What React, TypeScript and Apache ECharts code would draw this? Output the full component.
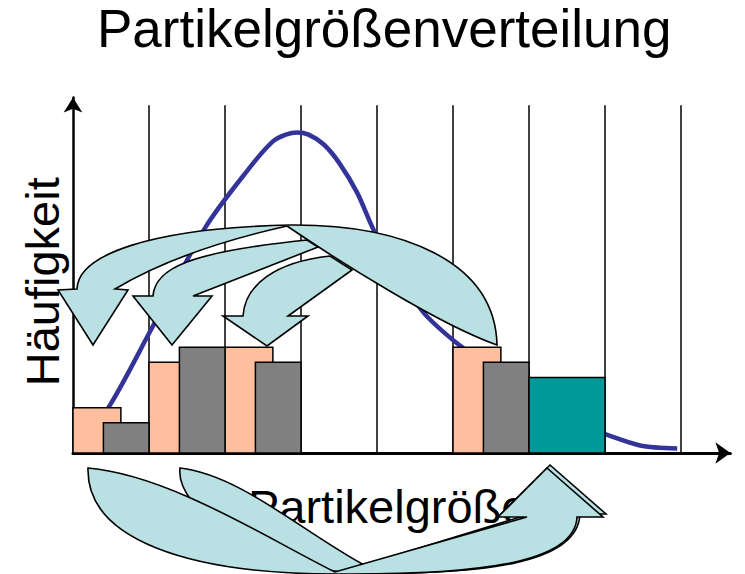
import React, { useEffect, useRef } from "react";
import * as echarts from "echarts";

// ---- texts ----
const chartTitle = "Partikelgrößenverteilung";
const xAxisName = "Partikelgröße";
const yAxisName = "Häufigkeit";

// ---- class boundaries (vertical lines) ----
const binBoundaries = [1, 2, 3, 4, 5, 6, 7, 8];
const boundaryTop = [23, 23, 23, 23, 23, 23, 23, 23];

// ---- histogram bars (class index, frequency) ----
const pinkBins = [0, 1, 2, 5];
const pinkValues = [3, 6, 7, 7];
const grayBins = [0, 1, 2, 5];
const grayValues = [2, 7, 6, 6];
const tealBins = [6];
const tealValues = [5];

// ---- distribution curve ----
const curveX = [0.02, 0.49, 1.01, 1.74, 2.33, 2.63, 2.8, 2.95, 3.1, 3.3, 3.5, 3.74, 3.97, 4.3, 4.61, 5.09, 5.62, 6.14, 6.54, 6.97, 7.46, 7.95];
const curveY = [0.0, 3.2, 8.0, 14.9, 18.9, 20.6, 21.05, 21.2, 21.05, 20.4, 19.2, 17.2, 14.6, 11.8, 9.3, 7.1, 5.2, 3.2, 2.0, 1.3, 0.5, 0.3];

// ---- decorative block arrows (pixel outlines) ----
const arrowShapes: [string, string][] = [
  ["arrowA", "M77 289 C78 255 150 228 290 225 C400 224 495 260 497 345 C440 325 340 262 287 226 Q180 250 115 289 L128 290 L93 345 L58 290 Z"],
  ["arrowB", "M153 296 C155 268 190 252 307 240 L318 247 L193 296 L212 296 L172 345 L133 296 Z"],
  ["arrowC", "M243 316 C245 285 275 262 330 256 L352 270 L288 316 L308 316 L267 346 L223 316 Z"],
  ["arrowE", "M180 468 C175 510 260 565 350 573 C480 575 578 565 580 514 L606 514 L550 465 L501 514 L530 514 L364 565 C300 530 240 475 180 468 Z"],
  ["arrowD", "M88 468 C86 540 190 574 335 574 C470 575 575 565 577 517 L603 517 L547 468 L498 517 L527 517 L335 572 C270 540 170 475 88 468 Z"],
];

let shapesRegistered = false;
function registerArrowShapes() {
  if (shapesRegistered) return;
  arrowShapes.forEach(([name, d]) => {
    echarts.graphic.registerShape(name, echarts.graphic.extendPath(d, {}) as any);
  });
  shapesRegistered = true;
}

const FONT = "Liberation Sans, Arial, sans-serif";

function barSeries(name: string, bins: number[], values: number[], from: number, to: number, color: string, z: number) {
  return {
    type: "custom",
    name,
    z,
    data: bins.map((b, i) => [b, values[i]]),
    encode: { x: 0, y: 1 },
    renderItem: (_params: any, api: any) => {
      const b = api.value(0);
      const v = api.value(1);
      const p0 = api.coord([b + from, v]);
      const p1 = api.coord([b + to, 0]);
      return {
        type: "rect",
        shape: { x: p0[0], y: p0[1], width: p1[0] - p0[0], height: p1[1] - p0[1] },
        style: { fill: color, stroke: "#000", lineWidth: 1.5 },
      };
    },
  };
}

export default function App() {
  const ref = useRef<HTMLDivElement>(null);

  useEffect(() => {
    if (!ref.current) return;
    registerArrowShapes();
    const chart = echarts.init(ref.current, undefined, { renderer: "svg" });
    const arrowStyle = { fill: "#B9E0E3", stroke: "#000", lineWidth: 1.6, lineJoin: "miter" };
    chart.setOption({
      animation: false,
      backgroundColor: "#fff",
      title: {
        text: chartTitle,
        left: 97,
        top: 2,
        padding: 0,
        textStyle: { fontFamily: FONT, fontSize: 53, fontWeight: "normal", color: "#000" },
      },
      grid: { left: 73, top: 97.6, width: 657.4, height: 355.4 },
      xAxis: {
        type: "value",
        min: 0,
        max: 8.65,
        name: xAxisName,
        nameLocation: "middle",
        nameGap: 30,
        nameTextStyle: { fontFamily: FONT, fontSize: 47, color: "#000", padding: [0, 28, 0, 0] },
        axisLine: { show: true, lineStyle: { color: "#000", width: 3 }, symbol: ["none", "arrow"], symbolSize: [16, 15] },
        axisTick: { show: false },
        axisLabel: { show: false },
        splitLine: { show: false },
      },
      yAxis: {
        type: "value",
        min: 0,
        max: 23.5,
        name: yAxisName,
        nameLocation: "middle",
        nameRotate: 90,
        nameGap: 7,
        nameTextStyle: { fontFamily: FONT, fontSize: 47, color: "#000", padding: [0, 13, 0, 0] },
        axisLine: { show: true, lineStyle: { color: "#000", width: 2.5 }, symbol: ["none", "arrow"], symbolSize: [14, 15] },
        axisTick: { show: false },
        axisLabel: { show: false },
        splitLine: { show: false },
      },
      series: [
        {
          type: "custom",
          name: "Klassengrenzen",
          z: 1,
          data: binBoundaries.map((x, i) => [x, boundaryTop[i]]),
          encode: { x: 0, y: 1 },
          renderItem: (_p: any, api: any) => {
            const a = api.coord([api.value(0), 0]);
            const b = api.coord([api.value(0), api.value(1)]);
            return {
              type: "line",
              shape: { x1: a[0], y1: a[1], x2: b[0], y2: b[1] },
              style: { stroke: "#000", lineWidth: 1.5 },
            };
          },
        },
        {
          type: "line",
          name: "Verteilung",
          z: 2,
          data: curveX.map((x, i) => [x, curveY[i]]),
          smooth: 0.3,
          showSymbol: false,
          symbol: "none",
          lineStyle: { color: "#333399", width: 4.5 },
        },
        barSeries("A", pinkBins, pinkValues, 0, 0.63, "#FFBF9F", 3),
        barSeries("B", grayBins, grayValues, 0.4, 1, "#808080", 4),
        barSeries("C", tealBins, tealValues, 0, 1, "#009999", 4),
      ],
      graphic: [
        { type: "arrowA", z: 100, style: arrowStyle },
        { type: "arrowB", z: 101, style: arrowStyle },
        { type: "arrowC", z: 102, style: arrowStyle },
        { type: "arrowE", z: 103, style: arrowStyle },
        { type: "arrowD", z: 104, style: arrowStyle },
      ],
    });
    return () => chart.dispose();
  }, []);

  return <div ref={ref} style={{ position: "fixed", left: 0, top: 0, width: 745, height: 574 }} />;
}
